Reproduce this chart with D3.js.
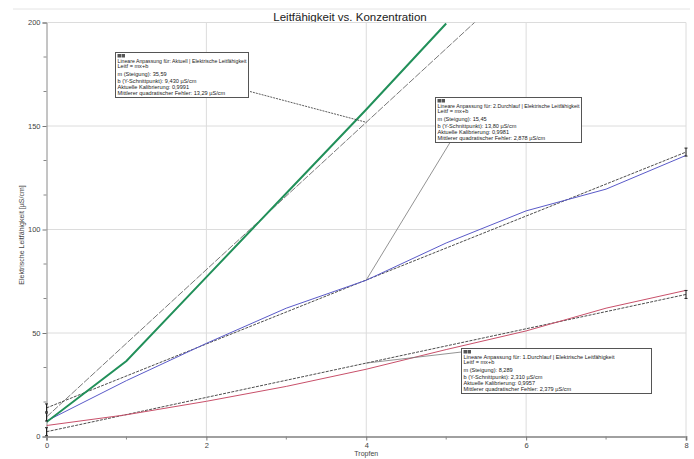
<!DOCTYPE html>
<html><head><meta charset="utf-8">
<script src="https://cdn.jsdelivr.net/npm/d3@7"></script>
<style>body{margin:0;background:#fff}svg{display:block}</style>
</head><body>
<svg id="chart" width="694" height="459"></svg>
<script>
// Messreihen: Leitfähigkeit [µS/cm] je Tropfen
const tropfen = [0, 1, 2, 3, 4, 5, 6, 7, 8];
const aktuell = [7, 36.5, 77, 117.5, 158, 199.5];
const durchlauf2 = [7.5, 27, 45, 62, 75.5, 93.5, 109, 119.5, 135.8];
const durchlauf1 = [5.3, 10.5, 17, 24.2, 32.5, 42, 51, 62, 70.6];

// Lineare Anpassungen (Leitf = m*x + b)
const fitLabels = ["Aktuell", "2.Durchlauf", "1.Durchlauf"];
const fitSlopes = [35.59, 15.45, 8.289];
const fitIntercepts = [9.430, 13.80, 2.310];
const fitSlopeText = ["35,59", "15,45", "8,289"];
const fitInterceptText = ["9,430", "13,80", "2,310"];
const fitCorrText = ["0,9991", "0,9981", "0,9957"];
const fitRmseText = ["13,29", "2,878", "2,379"];

const xTicks = [0, 2, 4, 6, 8];
const xMinor = [1, 3, 5, 7];
const yTicks = [0, 50, 100, 150, 200];

const svg = d3.select("#chart");
const m = {left: 46.5, right: 686, top: 22.5, bottom: 436.5};

const x = d3.scaleLinear().domain([0, 8]).range([m.left, m.right]);
const y = d3.scaleLinear().domain([0, 200]).range([m.bottom, m.top]);
const font = "Liberation Sans, Arial, sans-serif";

// oberer Trennstrich
svg.append("line").attr("x1", 13).attr("x2", 690).attr("y1", 9).attr("y2", 9)
  .attr("stroke", "#e4e4e4").attr("stroke-width", 1);

svg.append("text").attr("x", 350).attr("y", 20.5).attr("text-anchor", "middle")
  .attr("font-family", font).attr("font-size", 11.5)
  .attr("fill", "#222").text("Leitfähigkeit vs. Konzentration");

svg.append("defs").append("clipPath").attr("id", "plot")
  .append("rect").attr("x", m.left).attr("y", m.top)
  .attr("width", m.right - m.left + 2).attr("height", m.bottom - m.top);

// Gitter
const grid = svg.append("g").attr("stroke", "#dcdcdc").attr("stroke-width", 1);
grid.selectAll(".gx").data(xTicks.filter(d => d > 0)).join("line")
  .attr("x1", d => x(d)).attr("x2", d => x(d)).attr("y1", m.top).attr("y2", m.bottom);
grid.selectAll(".gy").data(yTicks.filter(d => d > 0)).join("line")
  .attr("x1", m.left).attr("x2", m.right).attr("y1", d => y(d)).attr("y2", d => y(d));

// Achsen
const yAxis = svg.append("g").attr("transform", `translate(${m.left},0)`)
  .call(d3.axisLeft(y).tickValues(yTicks).tickSize(4).tickPadding(2));
const yMinor = d3.range(0, 200, 50 / 3).filter(v => v % 50 > 1 && v % 50 < 49);
svg.append("g").selectAll("line").data(yMinor).join("line")
  .attr("x1", m.left - 3).attr("x2", m.left).attr("y1", d => y(d)).attr("y2", d => y(d))
  .attr("stroke", "#888");
const xAxis = svg.append("g").attr("transform", `translate(0,${m.bottom})`)
  .call(d3.axisBottom(x).tickValues(xTicks).tickFormat(d3.format("d")).tickSize(4).tickPadding(2));
svg.append("g").selectAll("line").data(xMinor).join("line")
  .attr("x1", d => x(d)).attr("x2", d => x(d)).attr("y1", m.bottom).attr("y2", m.bottom + 3)
  .attr("stroke", "#888");
[yAxis, xAxis].forEach(a => {
  a.select(".domain").attr("stroke", "#8a8a8a");
  a.selectAll(".tick line").attr("stroke", "#777");
  a.selectAll("text").attr("font-family", font).attr("font-size", 7.5).attr("fill", "#444");
});
xAxis.select(".domain").attr("stroke-width", 2).attr("stroke", "#a0a0a0");

svg.append("text").attr("x", x(4)).attr("y", 456).attr("text-anchor", "middle")
  .attr("font-family", font).attr("font-size", 7).attr("fill", "#444").text("Tropfen");
svg.append("text").attr("transform", "translate(24,235) rotate(-90)")
  .attr("text-anchor", "middle").attr("font-family", font).attr("font-size", 7)
  .attr("fill", "#444").text("Elektrische Leitfähigkeit [µS/cm]");

const plot = svg.append("g").attr("clip-path", "url(#plot)");
const line = d3.line().x((d, i) => x(tropfen[i])).y(d => y(d));

// Ausgleichsgeraden
const fitEnd = [5.6, 8, 8];
fitSlopes.forEach((s, i) => {
  const pts = [0, fitEnd[i]].map(t => [x(t), y(s * t + fitIntercepts[i])]);
  plot.append("path").attr("d", d3.line()(pts)).attr("fill", "none")
    .attr("stroke", i === 0 ? "#6a6a6a" : "#3a3a3a").attr("stroke-width", 0.9)
    .attr("stroke-dasharray", i === 0 ? "7,1.5" : "3,1.2");
});

// Messkurven
plot.append("path").attr("d", line(durchlauf1)).attr("fill", "none")
  .attr("stroke", "#c8506a").attr("stroke-width", 1);
plot.append("path").attr("d", line(durchlauf2)).attr("fill", "none")
  .attr("stroke", "#5a5ac8").attr("stroke-width", 1);
plot.append("path").attr("d", line(aktuell)).attr("fill", "none")
  .attr("stroke", "#22905a").attr("stroke-width", 2);

// Bereichsmarken an den Enden der Anpassungen
const marks = [];
fitSlopes.forEach((s, i) => {
  marks.push([0, fitIntercepts[i]]);
  if (i > 0) marks.push([8, s * 8 + fitIntercepts[i]]);
});
const mk = svg.append("g").attr("stroke", "#222").attr("stroke-width", 1);
marks.forEach(([t, v]) => {
  const px = x(t), py = y(v);
  mk.append("line").attr("x1", px).attr("x2", px).attr("y1", py - 4).attr("y2", py + 4);
  mk.append("line").attr("x1", px - 1.5).attr("x2", px + 1.5).attr("y1", py - 4).attr("y2", py - 4);
  mk.append("line").attr("x1", px - 1.5).attr("x2", px + 1.5).attr("y1", py + 4).attr("y2", py + 4);
});

// Anmerkungsfelder
const boxes = [
  {x: 115.5, y: 52.5, w: 133, h: 45, lx: 250, ly: 91.5},
  {x: 435.5, y: 97.5, w: 146, h: 45, lx: 450, ly: 142.5},
  {x: 461.5, y: 348.5, w: 190, h: 45, lx: 461.5, ly: 352}
];
const lineOffsets = [10, 15, 23, 30.5, 36.5, 42.5];
boxes.forEach((b, i) => {
  const px = x(4), py = y(fitSlopes[i] * 4 + fitIntercepts[i]);
  svg.append("line").attr("x1", b.lx).attr("y1", b.ly).attr("x2", px).attr("y2", py)
    .attr("stroke", i === 0 ? "#333" : "#777").attr("stroke-width", 0.8)
    .attr("stroke-dasharray", i === 0 ? "2,1" : null);
  const g = svg.append("g");
  g.append("rect").attr("x", b.x).attr("y", b.y).attr("width", b.w).attr("height", b.h)
    .attr("fill", "#fff").attr("stroke", "#555").attr("stroke-width", 1);
  g.append("rect").attr("x", b.x + 2).attr("y", b.y + 1.5).attr("width", 3.5).attr("height", 3.5).attr("fill", "#555");
  g.append("rect").attr("x", b.x + 6).attr("y", b.y + 1.5).attr("width", 3.5).attr("height", 3.5).attr("fill", "#555");
  const texts = [
    `Lineare Anpassung für: ${fitLabels[i]} | Elektrische Leitfähigkeit`,
    "Leitf = mx+b",
    `m (Steigung): ${fitSlopeText[i]}`,
    `b (Y-Schnittpunkt): ${fitInterceptText[i]} µS/cm`,
    `Aktuelle Kalibrierung: ${fitCorrText[i]}`,
    `Mittlerer quadratischer Fehler: ${fitRmseText[i]} µS/cm`
  ];
  texts.forEach((t, k) => {
    const tx = g.append("text").attr("x", b.x + 2).attr("y", b.y + lineOffsets[k])
      .attr("font-family", font).attr("font-size", 5.6).attr("fill", "#222").text(t);
    const maxW = b.w - 4;
    if (tx.node().getComputedTextLength() > maxW) {
      tx.attr("textLength", maxW).attr("lengthAdjust", "spacingAndGlyphs");
    }
  });
});
</script>
</body></html>
